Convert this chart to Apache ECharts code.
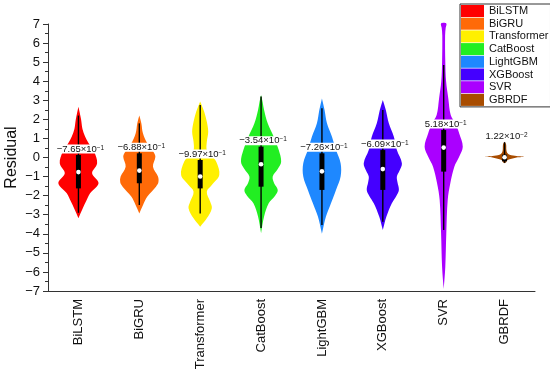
<!DOCTYPE html>
<html><head><meta charset="utf-8">
<script src="https://cdn.jsdelivr.net/npm/echarts@6/dist/echarts.min.js"></script>
<style>html,body{margin:0;padding:0;background:#fff}#c{width:550px;height:378px}</style>
</head><body><div id="c"></div>
<script>
const categories = ['BiLSTM','BiGRU','Transformer','CatBoost','LightGBM','XGBoost','SVR','GBRDF'];
const medians     = [-0.765, -0.688, -0.997, -0.354, -0.726, -0.609, 0.518, 0.0122];
const q1          = [-1.62, -1.35, -1.62, -1.53, -1.70, -1.70, -0.74, -0.20];
const q3          = [ 0.13,  0.22, -0.13,  0.57,  0.22,  0.39,  1.44,  0.15];
const whiskerLow  = [-2.90, -2.49, -2.93, -3.70, -3.54, -3.37, -3.80, -0.28];
const whiskerHigh = [ 2.20,  1.79,  2.75,  3.20,  2.58,  2.49,  4.85,  0.80];
const yMin = -7, yMax = 7, yStep = 1;

// density profiles: [residual value, relative density]
const densBiLSTM = [[2.66,0],[2.0,0.13],[1.5,0.2],[1.1,0.33],[0.76,0.5],[0.3,0.78],[-0.3,0.93],[-0.83,0.68],[-1.35,1.0],[-1.88,0.58],[-2.3,0.38],[-2.7,0.2],[-3.18,0]];
const densBiGRU = [[2.2,0],[1.8,0.1],[1.27,0.18],[0.74,0.4],[0.3,0.7],[0.04,0.8],[-0.48,0.68],[-1.0,0.93],[-1.3,0.95],[-1.53,0.83],[-2.05,0.4],[-2.5,0.18],[-2.93,0]];
const densTransformer = [[2.93,0],[2.6,0.13],[2.4,0.2],[1.88,0.33],[1.35,0.4],[0.83,0.33],[0.39,0.33],[0.1,0.55],[-0.22,0.8],[-0.92,0.95],[-1.44,0.58],[-1.79,0.33],[-2.32,0.5],[-2.66,0.58],[-3.19,0.33],[-3.63,0]];
const densCatBoost = [[3.28,0],[2.9,0.08],[2.49,0.15],[1.79,0.33],[1.09,0.63],[0.39,0.88],[-0.22,1.0],[-0.6,0.83],[-1.0,0.58],[-1.35,0.65],[-1.7,0.83],[-2.0,0.7],[-2.4,0.38],[-3.1,0.15],[-3.97,0]];
const densLightGBM = [[3.1,0],[2.49,0.13],[1.79,0.25],[1.09,0.5],[0.39,0.7],[-0.3,0.93],[-1.0,0.93],[-1.7,0.7],[-2.4,0.45],[-3.1,0.2],[-4.0,0]];
const densXGBoost = [[3.02,0],[2.49,0.15],[1.79,0.3],[1.09,0.55],[0.39,0.7],[-0.3,0.95],[-0.7,0.83],[-1.0,0.7],[-1.3,0.73],[-1.7,0.8],[-2.0,0.68],[-2.4,0.45],[-3.1,0.18],[-3.8,0]];
const densSVR = [[7.03,0.13],[6.8,0.1],[6.4,0.07],[5.0,0.08],[4.0,0.12],[3.1,0.23],[2.23,0.35],[1.79,0.58],[1.27,0.77],[0.57,0.95],[0.04,0.77],[-0.48,0.53],[-1.35,0.33],[-2.23,0.2],[-3.97,0.13],[-5.73,0.08],[-6.9,0]];
const densGBRDF = [[0.83,0],[0.7,0.075],[0.4,0.09],[0.25,0.13],[0.15,0.25],[0.08,0.6],[0.04,0.97],[0.0,0.6],[-0.08,0.3],[-0.15,0.13],[-0.25,0.08],[-0.3,0]];
const profiles = [densBiLSTM, densBiGRU, densTransformer, densCatBoost, densLightGBM, densXGBoost, densSVR, densGBRDF];

const colors = ['#FF0000','#FF6A08','#FFF000','#22EE22','#1E88FF','#4400FF','#AA00FF','#A84C00'];
const FONT = '"Liberation Sans", Arial, sans-serif';

function sciLabel(m){
  const e = Math.floor(Math.log10(Math.abs(m)));
  const man = m / Math.pow(10, e);
  const main = (man < 0 ? '\u2212' : '') + Math.abs(man).toFixed(2) + '\u00d710';
  const sup = (e < 0 ? '\u2212' : '') + Math.abs(e);
  return '{m|' + main + '}{s|' + sup + '}';
}

function renderItem(params, api){
  const i = params.seriesIndex;
  const band = api.size([1, 0])[0];
  const half = band * 0.33;
  const cx = api.coord([i, 0])[0];
  const left = [], right = [];
  profiles[i].forEach(function(p){
    const y = api.coord([i, p[0]])[1];
    left.push([cx - p[1] * half, y]);
    right.unshift([cx + p[1] * half, y]);
  });
  const yQ1 = api.coord([i, q1[i]])[1], yQ3 = api.coord([i, q3[i]])[1];
  const yWL = api.coord([i, whiskerLow[i]])[1], yWH = api.coord([i, whiskerHigh[i]])[1];
  const yMed = api.coord([i, medians[i]])[1];
  const anchor = (q3[i] - q1[i] < 0.5) ? yWH : yQ3;
  return {
    type: 'group',
    children: [
      { type: 'polygon', shape: { points: left.concat(right), smooth: 0.35 }, style: { fill: colors[i] } },
      { type: 'line', shape: { x1: cx, y1: yWH, x2: cx, y2: yWL }, style: { stroke: '#000', lineWidth: 1.4 } },
      { type: 'rect', shape: { x: cx - 2.5, y: yQ3, width: 5, height: yQ1 - yQ3 }, style: { fill: '#000' } },
      { type: 'circle', shape: { cx: cx, cy: yMed, r: 2.3 }, style: { fill: '#fff' } },
      { type: 'text', z2: 20, style: {
          x: cx + 2, y: anchor - 6, text: sciLabel(medians[i]), align: 'center', verticalAlign: 'middle',
          backgroundColor: '#fff', padding: [0, 1],
          rich: { m: { fontSize: 9.5, fontFamily: FONT, fill: '#111', lineHeight: 9 },
                  s: { fontSize: 6.5, fontFamily: FONT, fill: '#111', verticalAlign: 'top', lineHeight: 9 } } } }
    ]
  };
}

const chart = echarts.init(document.getElementById('c'), null, { renderer: 'canvas' });
chart.setOption({
  animation: false,
  backgroundColor: '#fff',
  textStyle: { fontFamily: FONT },
  legend: {
    orient: 'vertical', left: 460, top: 4, itemWidth: 23, itemHeight: 12, itemGap: 0.7,
    icon: 'rect', borderColor: '#333', borderWidth: 1, padding: [1, 2, 1, 1],
    textStyle: { fontSize: 11, color: '#111', fontFamily: FONT },
    data: categories
  },
  grid: { left: 48, right: 15, top: 24, bottom: 87, outerBoundsMode: 'none' },
  xAxis: {
    type: 'category', data: categories,
    axisLine: { onZero: false, lineStyle: { color: '#333', width: 1 } },
    axisTick: { alignWithLabel: true, length: 4, lineStyle: { color: '#333' } },
    axisLabel: { rotate: 90, fontSize: 13, color: '#111', margin: 8, interval: 0 },
    splitLine: { show: false }
  },
  yAxis: {
    type: 'value', min: yMin, max: yMax, interval: yStep,
    name: 'Residual', nameLocation: 'middle', nameRotate: 90, nameGap: 28, nameMoveOverlap: false,
    nameTextStyle: { fontSize: 16, color: '#111' },
    axisLine: { show: true, lineStyle: { color: '#333', width: 1 } },
    axisTick: { show: true, length: 5, lineStyle: { color: '#333' } },
    minorTick: { show: true, splitNumber: 2, length: 3, lineStyle: { color: '#333' } },
    splitLine: { show: false },
    axisLabel: { fontSize: 13, color: '#111', margin: 8,
      formatter: function(v){ return v < 0 ? '\u2212' + (-v) : String(v); } }
  },
  series: categories.map(function(name, i){
    return {
      type: 'custom', name: name, renderItem: renderItem,
      itemStyle: { color: colors[i] },
      encode: { x: 0, y: 1 },
      data: [[i, medians[i]]]
    };
  })
});
</script>
</body></html>
